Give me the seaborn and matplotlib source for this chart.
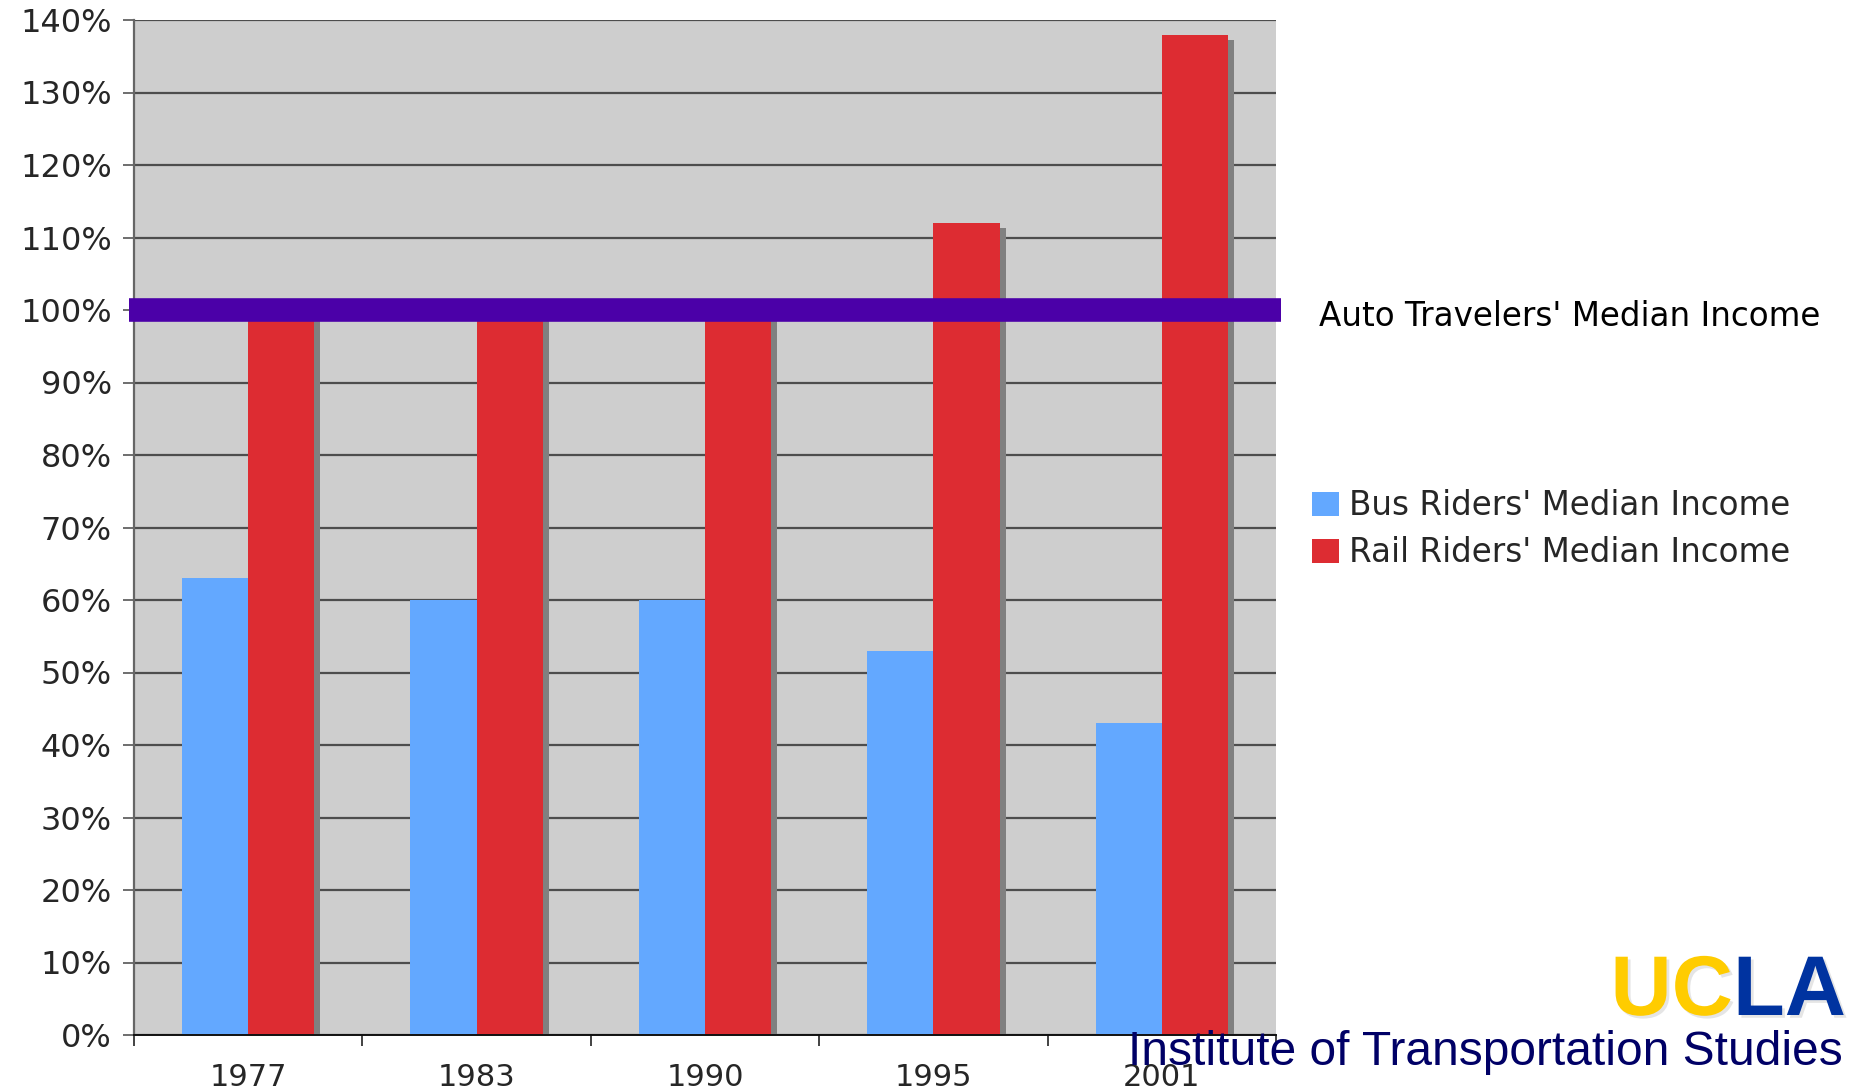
import matplotlib
matplotlib.use("Agg")
import matplotlib.pyplot as plt
import matplotlib.patches as mpatches
import matplotlib.patheffects as pe
import matplotlib.transforms as mtransforms
import seaborn as sns
import pandas as pd

# Median income of transit riders as a share of auto travelers' median income
years = ["1977", "1983", "1990", "1995", "2001"]
bus_income = [63, 60, 60, 53, 43]
rail_income = [100, 100, 100, 112, 138]
auto_income = 100
series_names = ["Bus Riders' Median Income", "Rail Riders' Median Income"]
y_ticks = list(range(0, 141, 10))

BLUE = "#63A8FF"
RED = "#DD2C32"
PURPLE = "#4B00A8"
PANEL = "#CECECE"

df = pd.DataFrame({
    "Year": years * 2,
    "Percent": bus_income + rail_income,
    "Series": [series_names[0]] * len(years) + [series_names[1]] * len(years),
})

sns.set_style("white")
plt.rcParams["font.family"] = ["DejaVu Sans"]

W, H = 1861, 1090
fig = plt.figure(figsize=(W / 100, H / 100), dpi=100)
ax = fig.add_axes([134 / W, 1 - 1035 / H, (1276 - 134) / W, (1035 - 20) / H])
ax.set_facecolor(PANEL)

sns.barplot(data=df, x="Year", y="Percent", hue="Series", order=years,
            hue_order=series_names, palette=[BLUE, RED], width=0.58, gap=0,
            saturation=1, linewidth=0, ax=ax)

# drop shadows: copies of each bar nudged right and down by a few pixels
offset = mtransforms.ScaledTranslation(6 / 100, -5 / 100, fig.dpi_scale_trans)
for bar in list(ax.patches):
    bar.set_zorder(1.5)
    sh = mpatches.Rectangle(bar.get_xy(), bar.get_width(), bar.get_height(),
                            facecolor="#808080", edgecolor="none",
                            transform=ax.transData + offset, zorder=0.9,
                            label="_nolegend_")
    ax.add_patch(sh)

ax.set_xlim(-0.5, len(years) - 0.5)
ax.set_ylim(0, 140)
ax.set_yticks(y_ticks)
ax.set_yticklabels([f"{v}%" for v in y_ticks], fontsize=23)
ax.yaxis.grid(True, color="#4d4d4d", linewidth=1.6)
ax.xaxis.grid(False)
ax.set_axisbelow(True)
ax.set_xlabel("")
ax.set_ylabel("")

# category boundaries carry the tick marks, labels sit at the centers
ax.set_xticks([i - 0.5 for i in range(len(years) + 1)])
ax.set_xticklabels([])
ax.set_xticks(range(len(years)), minor=True)
ax.set_xticklabels(years, minor=True, fontsize=22)
ax.tick_params(axis="x", which="major", direction="out", length=8, width=1.2,
               color="#222222", bottom=True)
ax.tick_params(axis="x", which="minor", length=0, pad=20.5)
ax.tick_params(axis="y", direction="out", length=8, width=1.2, color="#555555",
               left=True, pad=8)

for side in ("top", "right"):
    ax.spines[side].set_visible(False)
ax.spines["left"].set_color("#666666")
ax.spines["left"].set_linewidth(1.6)
ax.spines["bottom"].set_color("#111111")
ax.spines["bottom"].set_linewidth(1.4)

# auto travelers' reference line
ax.hlines(auto_income, -0.004, 1.004, transform=ax.get_yaxis_transform(),
          color=PURPLE, linewidth=17, clip_on=False, zorder=5)
fig.text(1319 / W, 1 - 317 / H, "Auto Travelers' Median Income",
         ha="left", va="center", fontsize=23.5, color="black")

handles, labels = ax.get_legend_handles_labels()
if ax.get_legend() is not None:
    ax.get_legend().remove()
fig.legend(handles[:2], labels[:2], loc="upper left",
           bbox_to_anchor=(1312 / W, 1 - 489 / H), frameon=False,
           fontsize=23.5, handlelength=0.82, handleheight=0.76,
           handletextpad=0.3, labelspacing=0.43, borderpad=0,
           borderaxespad=0)

# institute logo
glow = [pe.withSimplePatchShadow(offset=(2, -2), shadow_rgbFace="#aaaaaa", alpha=0.3)]
fig.text(1733 / W, 1 - 1015 / H, "UC", ha="right", va="baseline",
         fontsize=61, fontweight="bold", family="Liberation Sans",
         color="#FFCC00", path_effects=glow)
fig.text(1733 / W, 1 - 1015 / H, "LA", ha="left", va="baseline",
         fontsize=61, fontweight="bold", family="Liberation Sans",
         color="#0033A0", path_effects=glow)
fig.text(1128 / W, 1 - 1065 / H, "Institute of Transportation Studies",
         ha="left", va="baseline", fontsize=34.5, family="Liberation Sans",
         color="#000066", zorder=10)

fig.savefig("out.png", dpi=100, facecolor="white")
